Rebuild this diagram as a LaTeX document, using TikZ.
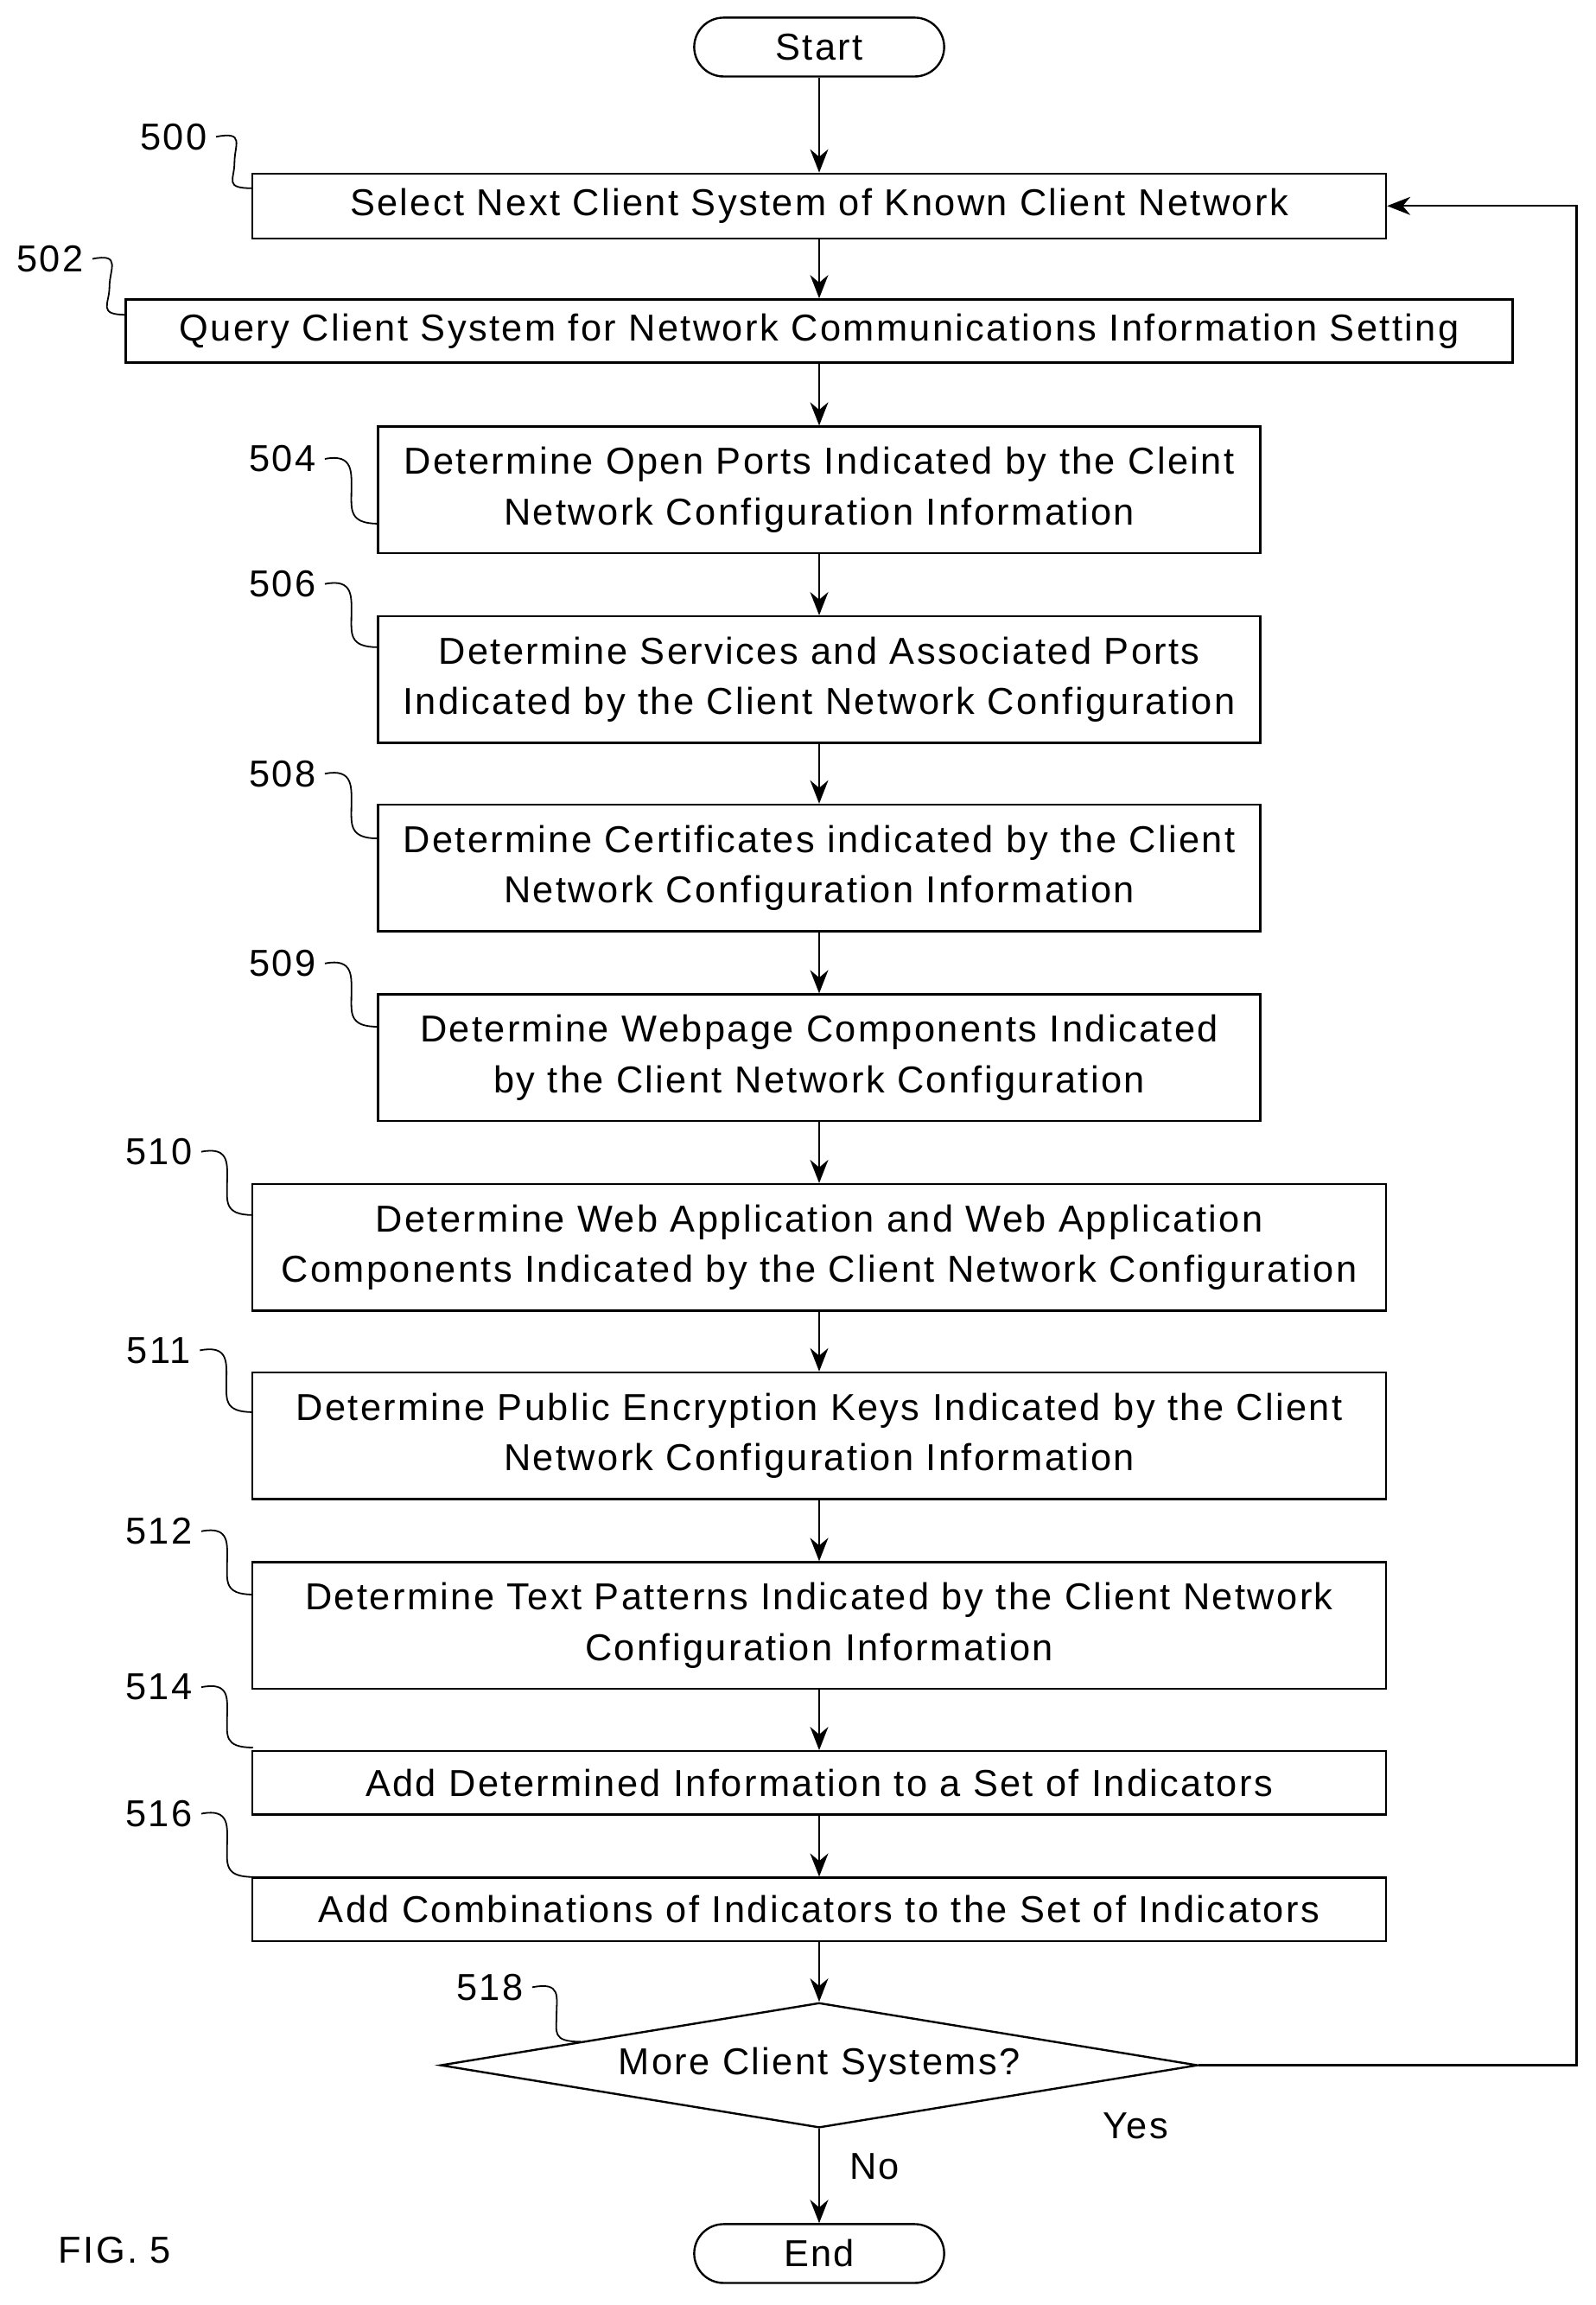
\documentclass[tikz,border=0pt]{standalone}
\usepackage{fontspec}
\setmainfont{Liberation Sans}[LetterSpace=5.5]
\usetikzlibrary{arrows.meta,shapes.geometric,calc}
\tikzset{
	box/.style={draw, line width=0.8pt, align=center, inner sep=2pt,
		font=\fontsize{14.5}{19.5}\selectfont},
	term/.style={box, rounded corners=0.4cm, minimum width=3.4cm,
		minimum height=0.8cm},
	flow/.style={line width=0.8pt, -{Stealth[length=9pt,width=7pt]}},
	lead/.style={line width=0.6pt},
	ref/.style={font=\fontsize{14.5}{17}\selectfont}
}
\begin{document}
\begin{tikzpicture}[x=0.02cm, y=-0.02cm]
	\useasboundingbox (0,0) rectangle (1085,1567);
	% Ablaufkaesten
	\node[term] (start) at (557,32) {Start};
	\node[box, minimum width=15.42cm, minimum height=0.88cm] (s500) at (557,140)
		{Select Next Client System of Known Client Network};
	\node[box, minimum width=18.86cm, minimum height=0.86cm] (s502) at (557,225)
		{Query Client System for Network Communications Information Setting};
	\node[box, minimum width=12cm, minimum height=1.72cm] (s504) at (557,333)
		{Determine Open Ports Indicated by the Cleint\\Network Configuration Information};
	\node[box, minimum width=12cm, minimum height=1.72cm] (s506) at (557,462)
		{Determine Services and Associated Ports\\Indicated by the Client Network Configuration};
	\node[box, minimum width=12cm, minimum height=1.72cm] (s508) at (557,590)
		{Determine Certificates indicated by the Client\\Network Configuration Information};
	\node[box, minimum width=12cm, minimum height=1.72cm] (s509) at (557,719)
		{Determine Webpage Components Indicated\\by the Client Network Configuration};
	\node[box, minimum width=15.42cm, minimum height=1.72cm] (s510) at (557,848)
		{Determine Web Application and Web Application\\Components Indicated by the Client Network Configuration};
	\node[box, minimum width=15.42cm, minimum height=1.72cm] (s511) at (557,976)
		{Determine Public Encryption Keys Indicated by the Client\\Network Configuration Information};
	\node[box, minimum width=15.42cm, minimum height=1.72cm] (s512) at (557,1105)
		{Determine Text Patterns Indicated by the Client Network\\Configuration Information};
	\node[box, minimum width=15.42cm, minimum height=0.86cm] (s514) at (557,1212)
		{Add Determined Information to a Set of Indicators};
	\node[box, minimum width=15.42cm, minimum height=0.86cm] (s516) at (557,1298)
		{Add Combinations of Indicators to the Set of Indicators};
	\node[box, diamond, aspect=6, inner sep=0pt, minimum width=10.3cm,
		minimum height=1.7cm] (s518) at (557,1404) {More Client Systems?};
	\node[term] (end) at (557,1532) {End};

	% Pfeile
	\draw[flow] (start) -- (s500);
	\draw[flow] (s500) -- (s502);
	\draw[flow] (s502) -- (s504);
	\draw[flow] (s504) -- (s506);
	\draw[flow] (s506) -- (s508);
	\draw[flow] (s508) -- (s509);
	\draw[flow] (s509) -- (s510);
	\draw[flow] (s510) -- (s511);
	\draw[flow] (s511) -- (s512);
	\draw[flow] (s512) -- (s514);
	\draw[flow] (s514) -- (s516);
	\draw[flow] (s516) -- (s518);
	\draw[flow] (s518) -- node[ref, right=8pt, pos=0.4] (no) {No} (end);
	\draw[flow] (s518.east) -| (1072,140) -- (s500.east);
	\node[ref] (yes) at (772,1445) {Yes};

	% Bezugszeichen
	\foreach \name/\x/\y/\tx/\ty in {500/118/93/172/128, 502/34/176/86/214,
		504/192/312/257/356, 506/192/397/257/440, 508/192/526/257/570,
		509/192/655/257/698, 510/108/783/172/826, 511/108/918/172/960,
		512/108/1041/172/1084, 514/108/1147/172/1188, 516/108/1233/172/1276,
		518/333/1351/395/1388}
	{
		\node[ref] (r\name) at (\x,\y) {\name};
		\draw[lead] (r\name.east) .. controls +(20,-4) and +(0,-12) .. ($(r\name.east)!0.5!(\tx,\ty)$)
			.. controls +(0,12) and +(-20,0) .. (\tx,\ty);
	}
	\node[ref] (fig) at (78,1530) {FIG. 5};
\end{tikzpicture}
\end{document}
